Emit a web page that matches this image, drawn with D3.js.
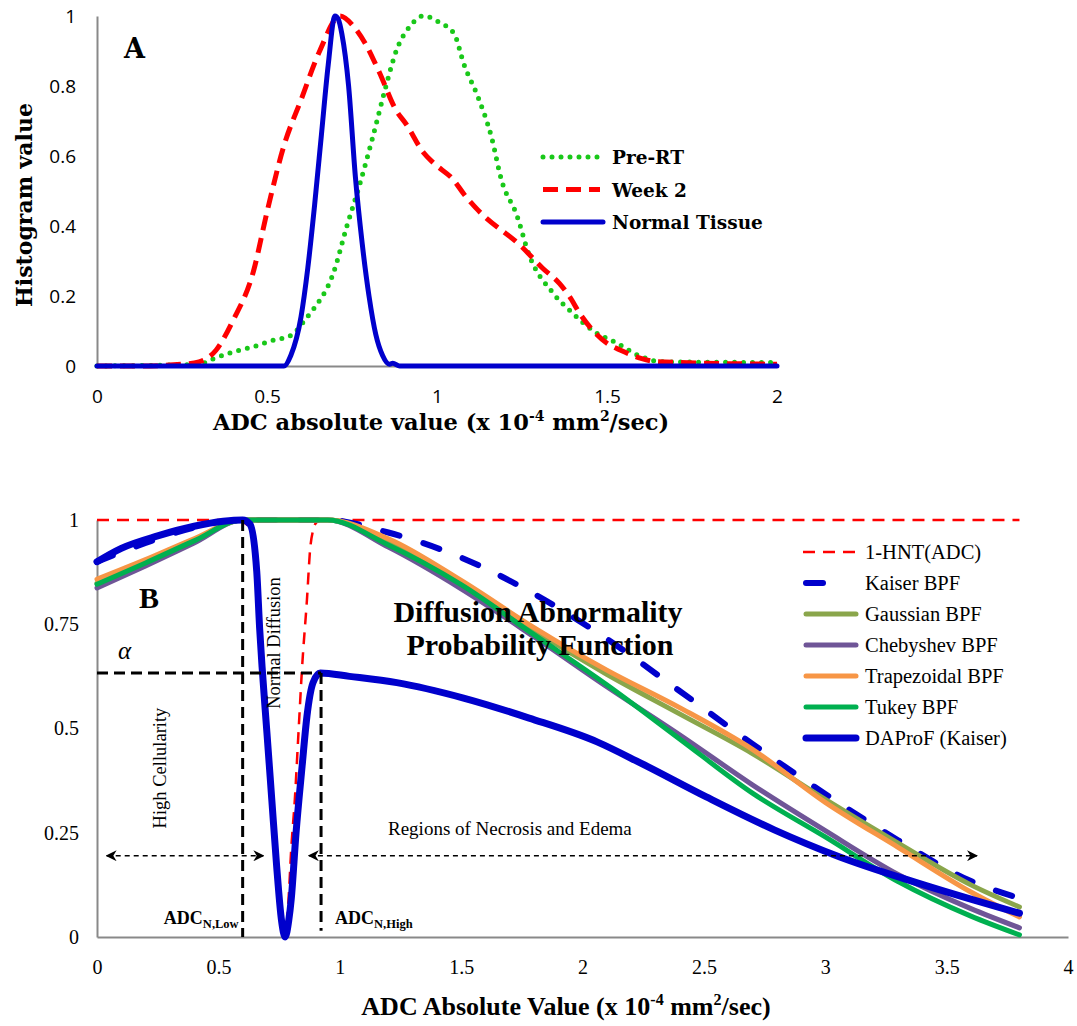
<!DOCTYPE html>
<html>
<head>
<meta charset="utf-8">
<script src="https://cdn.jsdelivr.net/npm/d3@7/dist/d3.min.js"></script>
<style>
  body { margin: 0; background: #fff; }
  svg { display: block; background: #fff; }
</style>
</head>
<body>
<svg id="chart" width="1077" height="1026"></svg>
<script>
'use strict';

// ---- panel A: normalised ADC histograms ----
const preRtX = [0, 0.3, 0.34, 0.40, 0.46, 0.52, 0.55, 0.58, 0.61, 0.635, 0.695, 0.735, 0.77, 0.81, 0.85, 0.88, 0.92, 0.96, 1.01, 1.05, 1.08, 1.12, 1.16, 1.19, 1.235, 1.27, 1.34, 1.40, 1.46, 1.53, 1.60, 1.66, 2.0];
const preRtY = [0, 0.005, 0.02, 0.04, 0.055, 0.074, 0.08, 0.094, 0.13, 0.16, 0.265, 0.40, 0.51, 0.65, 0.80, 0.90, 0.97, 1.0, 0.98, 0.95, 0.86, 0.77, 0.655, 0.53, 0.43, 0.32, 0.21, 0.15, 0.10, 0.065, 0.027, 0.012, 0.01];

const week2X = [0, 0.13, 0.25, 0.30, 0.35, 0.40, 0.46, 0.50, 0.55, 0.60, 0.655, 0.715, 0.755, 0.79, 0.83, 0.88, 0.91, 0.96, 0.99, 1.05, 1.08, 1.12, 1.25, 1.31, 1.36, 1.39, 1.42, 1.46, 1.50, 1.54, 1.60, 1.65, 2.0];
const week2Y = [0, 0, 0.005, 0.012, 0.045, 0.13, 0.27, 0.44, 0.63, 0.76, 0.90, 1.0, 0.97, 0.92, 0.84, 0.73, 0.69, 0.61, 0.58, 0.53, 0.49, 0.446, 0.34, 0.28, 0.236, 0.198, 0.15, 0.10, 0.065, 0.045, 0.022, 0.012, 0.005];

const normalX = [0, 0.55, 0.57, 0.60, 0.62, 0.64, 0.66, 0.68, 0.70, 0.71, 0.72, 0.74, 0.76, 0.78, 0.80, 0.82, 0.84, 0.86, 0.87, 0.89, 2.0];
const normalY = [0, 0, 0.03, 0.14, 0.28, 0.46, 0.66, 0.86, 1.0, 0.99, 0.95, 0.80, 0.54, 0.35, 0.20, 0.09, 0.03, 0.005, 0.008, 0, 0];

const histTicksX = [0, 0.5, 1, 1.5, 2];
const histTicksY = [0, 0.2, 0.4, 0.6, 0.8, 1];
const histNames = ['Pre-RT', 'Week 2', 'Normal Tissue'];

// ---- panel B: band-pass filters and DAProF ----
const filterX = [0, 0.2, 0.4, 0.6, 0.95, 1.2, 1.5, 1.8, 2.1, 2.4, 2.7, 3.0, 3.3, 3.6, 3.8];
const kaiserY = [0.9, 0.945, 0.982, 1, 1, 0.97, 0.91, 0.823, 0.715, 0.59, 0.463, 0.343, 0.232, 0.134, 0.093];
const gaussianY = [0.848, 0.9, 0.952, 1, 1, 0.95, 0.85, 0.735, 0.63, 0.535, 0.44, 0.33, 0.225, 0.125, 0.072];
const chebyshevY = [0.837, 0.89, 0.945, 1, 1, 0.935, 0.835, 0.72, 0.6, 0.485, 0.365, 0.255, 0.15, 0.068, 0.022];
const trapezoidalY = [0.858, 0.905, 0.955, 1, 1, 0.955, 0.855, 0.742, 0.64, 0.55, 0.45, 0.323, 0.215, 0.108, 0.048];
const tukeyY = [0.846, 0.897, 0.95, 1, 1, 0.94, 0.845, 0.725, 0.605, 0.475, 0.345, 0.24, 0.133, 0.05, 0.005];

const hntX = [0, 0.55, 0.6, 0.63, 0.658, 0.67, 0.68, 0.70, 0.72, 0.74, 0.76, 0.775, 0.79, 0.80, 0.815, 0.83, 0.845, 0.865, 0.878, 0.89, 0.905, 0.92, 3.8];
const hntY = [1, 1, 0.995, 0.98, 0.9, 0.78, 0.68, 0.5, 0.33, 0.17, 0.04, 0, 0.1, 0.21, 0.33, 0.49, 0.648, 0.81, 0.93, 0.975, 0.995, 1, 1];

const daprofX = [0, 0.1, 0.25, 0.4, 0.52, 0.6, 0.63, 0.658, 0.67, 0.68, 0.70, 0.72, 0.74, 0.76, 0.775, 0.79, 0.80, 0.82, 0.845, 0.865, 0.89, 0.92, 1.04, 1.235, 1.51, 1.78, 2.06, 2.24, 2.51, 2.79, 3.06, 3.34, 3.61, 3.8];
const daprofY = [0.9, 0.932, 0.962, 0.985, 0.997, 1, 0.99, 0.877, 0.74, 0.648, 0.49, 0.33, 0.17, 0.04, 0, 0.04, 0.09, 0.25, 0.41, 0.53, 0.61, 0.633, 0.625, 0.61, 0.573, 0.525, 0.468, 0.417, 0.336, 0.257, 0.192, 0.137, 0.089, 0.057];

const filterTicksX = [0, 0.5, 1, 1.5, 2, 2.5, 3, 3.5, 4];
const filterTicksY = [0, 0.25, 0.5, 0.75, 1];
const filterNames = ['1-HNT(ADC)', 'Kaiser BPF', 'Gaussian BPF', 'Chebyshev BPF', 'Trapezoidal BPF', 'Tukey BPF', 'DAProF (Kaiser)'];

// annotation levels (data units)
const adcLow = 0.6;
const adcHigh = 0.923;
const alphaLevel = 0.633;
const arrowLevel = 0.195;
const cellularitySpan = [0.04, 0.685];
const necrosisSpan = [0.873, 3.625];

const AXIS_COLOR = '#898989';
const SERIF = '"Liberation Serif", "Times New Roman", serif';
const SERIF_WIDE = '"DejaVu Serif", serif';

const svg = d3.select('#chart');

const zip = (xs, ys) => xs.map((x, i) => ({x: x, y: ys[i]}));

svg.append('defs').append('marker')
    .attr('id', 'arrow')
    .attr('viewBox', '0 0 10 10')
    .attr('refX', 9)
    .attr('refY', 5)
    .attr('markerUnits', 'userSpaceOnUse')
    .attr('markerWidth', 11)
    .attr('markerHeight', 11)
    .attr('orient', 'auto-start-reverse')
    .append('path')
    .attr('d', 'M0,0 L10,5 L0,10 L3,5 Z')
    .attr('fill', '#000');

// text with superscripts: parts = [[text, isSup], ...]
function richText(g, parts, size) {
    const t = g.append('text');
    let up = false;
    parts.forEach(([s, sup]) => {
        const span = t.append('tspan').text(s);
        if (sup && !up) {
            span.attr('font-size', size * 0.62).attr('dy', -size * 0.38);
            up = true;
        } else if (!sup && up) {
            span.attr('dy', size * 0.38);
            up = false;
        } else if (sup) {
            span.attr('font-size', size * 0.62);
        }
    });
    return t;
}

/* ------------------------- panel A ------------------------- */
function drawPanelA() {
    const x = d3.scaleLinear().domain([0, 2]).range([97, 777]);
    const y = d3.scaleLinear().domain([0, 1]).range([366, 16]);
    const g = svg.append('g');

    const line = d3.line()
        .x(d => x(d.x))
        .y(d => y(d.y))
        .curve(d3.curveMonotoneX);

    const yAxis = g.append('g')
        .attr('transform', 'translate(97,0)')
        .call(d3.axisLeft(y).tickValues(histTicksY).tickSize(0).tickPadding(21).tickFormat(d => String(d)));
    const xAxis = g.append('g')
        .attr('transform', 'translate(0,366)')
        .call(d3.axisBottom(x).tickValues(histTicksX).tickSize(0).tickPadding(24).tickFormat(d => String(d)));

    [xAxis, yAxis].forEach(a => {
        a.select('.domain').attr('stroke', AXIS_COLOR).attr('stroke-width', 2);
        a.selectAll('.tick text')
            .attr('fill', '#000')
            .style('font-family', '"Open Sans", sans-serif')
            .style('font-size', '19px');
    });

    const series = [
        {name: histNames[0], data: zip(preRtX, preRtY), color: '#19c819', width: 5, dash: '0,9', cap: 'round'},
        {name: histNames[1], data: zip(week2X, week2Y), color: '#ff0000', width: 5, dash: '15,8', cap: 'butt'},
        {name: histNames[2], data: zip(normalX, normalY), color: '#0000cc', width: 5, dash: null, cap: 'round'}
    ];

    g.selectAll('.hist')
        .data(series)
        .enter()
        .append('path')
        .attr('class', 'hist')
        .attr('d', d => line(d.data))
        .attr('fill', 'none')
        .attr('stroke', d => d.color)
        .attr('stroke-width', d => d.width)
        .attr('stroke-dasharray', d => d.dash)
        .attr('stroke-linecap', d => d.cap);

    // legend
    const leg = g.selectAll('.leg')
        .data(series)
        .enter()
        .append('g')
        .attr('transform', (d, i) => 'translate(543,' + (157 + i * 32.5) + ')');
    leg.append('line')
        .attr('x1', 0).attr('x2', d => d.dash ? 57 : 60)
        .attr('stroke', d => d.color)
        .attr('stroke-width', d => d.width)
        .attr('stroke-dasharray', d => d.dash)
        .attr('stroke-linecap', d => d.cap);
    leg.append('text')
        .attr('x', 69).attr('y', 7)
        .style('font-family', SERIF_WIDE)
        .style('font-weight', 'bold')
        .style('font-size', '18.5px')
        .text(d => d.name);

    g.append('text')
        .attr('x', 124).attr('y', 58)
        .style('font-family', SERIF_WIDE)
        .style('font-weight', 'bold')
        .style('font-size', '27px')
        .text('A');

    g.append('text')
        .attr('transform', 'translate(32,205) rotate(-90)')
        .attr('text-anchor', 'middle')
        .style('font-family', SERIF_WIDE)
        .style('font-weight', 'bold')
        .style('font-size', '22px')
        .text('Histogram value');

    const title = richText(g, [['ADC absolute value (x 10', false], ['-4', true], [' mm', false], ['2', true], ['/sec)', false]], 22.5);
    title.attr('x', 441).attr('y', 430)
        .attr('text-anchor', 'middle')
        .style('font-family', SERIF_WIDE)
        .style('font-weight', 'bold')
        .style('font-size', '22.5px');
}

/* ------------------------- panel B ------------------------- */
function drawPanelB() {
    const x = d3.scaleLinear().domain([0, 4]).range([97, 1068]);
    const y = d3.scaleLinear().domain([0, 1]).range([937, 520]);
    const g = svg.append('g');

    const line = d3.line()
        .x(d => x(d.x))
        .y(d => y(d.y))
        .curve(d3.curveMonotoneX);

    const yAxis = g.append('g')
        .attr('transform', 'translate(97,0)')
        .call(d3.axisLeft(y).tickValues(filterTicksY).tickSize(0).tickPadding(18).tickFormat(d => String(d)));
    const xAxis = g.append('g')
        .attr('transform', 'translate(0,937)')
        .call(d3.axisBottom(x).tickValues(filterTicksX).tickSize(0).tickPadding(23).tickFormat(d => String(d)));

    [xAxis, yAxis].forEach(a => {
        a.select('.domain').attr('stroke', AXIS_COLOR).attr('stroke-width', 2);
        a.selectAll('.tick text')
            .attr('fill', '#000')
            .style('font-family', SERIF)
            .style('font-size', '20px');
    });

    const series = [
        {name: filterNames[0], data: zip(hntX, hntY), color: '#ff0000', width: 2.5, dash: '12,8', cap: 'butt'},
        {name: filterNames[1], data: zip(filterX, kaiserY), color: '#0000cc', width: 6, dash: '17,25', cap: 'round'},
        {name: filterNames[2], data: zip(filterX, gaussianY), color: '#8aa64b', width: 5, dash: null, cap: 'round'},
        {name: filterNames[3], data: zip(filterX, chebyshevY), color: '#6f5597', width: 5, dash: null, cap: 'round'},
        {name: filterNames[4], data: zip(filterX, trapezoidalY), color: '#f79646', width: 5, dash: null, cap: 'round'},
        {name: filterNames[5], data: zip(filterX, tukeyY), color: '#00b050', width: 5, dash: null, cap: 'round'},
        {name: filterNames[6], data: zip(daprofX, daprofY), color: '#0000cc', width: 7, dash: null, cap: 'round'}
    ];

    g.selectAll('.filter')
        .data(series)
        .enter()
        .append('path')
        .attr('class', 'filter')
        .attr('d', d => line(d.data))
        .attr('fill', 'none')
        .attr('stroke', d => d.color)
        .attr('stroke-width', d => d.width)
        .attr('stroke-dasharray', d => d.dash)
        .attr('stroke-linecap', d => d.cap);

    // dashed guides for ADC_N,Low / ADC_N,High and alpha
    const guides = [
        [[adcLow, 1], [adcLow, 0]],
        [[adcHigh, alphaLevel], [adcHigh, 0.015]],
        [[0, alphaLevel], [adcHigh, alphaLevel]]
    ];
    g.selectAll('.guide')
        .data(guides)
        .enter()
        .append('line')
        .attr('x1', d => x(d[0][0])).attr('y1', d => y(d[0][1]))
        .attr('x2', d => x(d[1][0])).attr('y2', d => y(d[1][1]))
        .attr('stroke', '#000')
        .attr('stroke-width', 3)
        .attr('stroke-dasharray', '11,6');

    [cellularitySpan, necrosisSpan].forEach(span => {
        g.append('line')
            .attr('x1', x(span[0])).attr('x2', x(span[1]))
            .attr('y1', y(arrowLevel)).attr('y2', y(arrowLevel))
            .attr('stroke', '#000')
            .attr('stroke-width', 1.5)
            .attr('stroke-dasharray', '5,4')
            .attr('marker-start', 'url(#arrow)')
            .attr('marker-end', 'url(#arrow)');
    });

    const label = (tx, ty, txt, size, opts = {}) => g.append('text')
        .attr('x', tx).attr('y', ty)
        .attr('text-anchor', opts.anchor || 'start')
        .style('font-family', SERIF)
        .style('font-size', size + 'px')
        .style('font-weight', opts.bold ? 'bold' : 'normal')
        .style('font-style', opts.italic ? 'italic' : 'normal')
        .text(txt);

    label(139, 608, 'B', 30, {bold: true});
    label(118, 659, 'α', 25, {italic: true});
    label(538, 622, 'Diffusion Abnormality', 30, {bold: true, anchor: 'middle'});
    label(540, 655, 'Probability Function', 30, {bold: true, anchor: 'middle'});
    label(388, 835, 'Regions of Necrosis and Edema', 19);

    g.append('text')
        .attr('transform', 'translate(280,643) rotate(-90)')
        .attr('text-anchor', 'middle')
        .style('font-family', SERIF)
        .style('font-size', '18.5px')
        .text('Normal Diffusion');
    g.append('text')
        .attr('transform', 'translate(166,768) rotate(-90)')
        .attr('text-anchor', 'middle')
        .style('font-family', SERIF)
        .style('font-size', '18.5px')
        .text('High Cellularity');

    // ADC_N,Low / ADC_N,High
    const adcLabel = (tx, anchor, sub) => {
        const t = g.append('text')
            .attr('x', tx).attr('y', 924)
            .attr('text-anchor', anchor)
            .style('font-family', SERIF)
            .style('font-weight', 'bold')
            .style('font-size', '18px');
        t.append('tspan').text('ADC');
        t.append('tspan').attr('font-size', 12.5).attr('dy', 4).text(sub);
    };
    adcLabel(x(adcLow) - 4, 'end', 'N,Low');
    adcLabel(x(adcHigh) + 14, 'start', 'N,High');

    // legend
    const leg = g.selectAll('.leg')
        .data(series)
        .enter()
        .append('g')
        .attr('transform', (d, i) => 'translate(803,' + (552 + i * 31) + ')');
    leg.append('line')
        .attr('x1', d => d.cap === 'round' ? 3 : 0)
        .attr('x2', d => d.cap === 'round' ? 53 : 56)
        .attr('stroke', d => d.color)
        .attr('stroke-width', d => d.width)
        .attr('stroke-dasharray', d => d.name === filterNames[1] ? '17,35' : d.dash)
        .attr('stroke-linecap', d => d.cap);
    leg.append('text')
        .attr('x', 62).attr('y', 7)
        .style('font-family', SERIF)
        .style('font-size', '20.5px')
        .text(d => d.name);

    const title = richText(g, [['ADC Absolute Value (x 10', false], ['-4', true], [' mm', false], ['2', true], ['/sec)', false]], 26);
    title.attr('x', 566).attr('y', 1015)
        .attr('text-anchor', 'middle')
        .style('font-family', SERIF)
        .style('font-weight', 'bold')
        .style('font-size', '26px');
}

drawPanelA();
drawPanelB();
</script>
</body>
</html>
